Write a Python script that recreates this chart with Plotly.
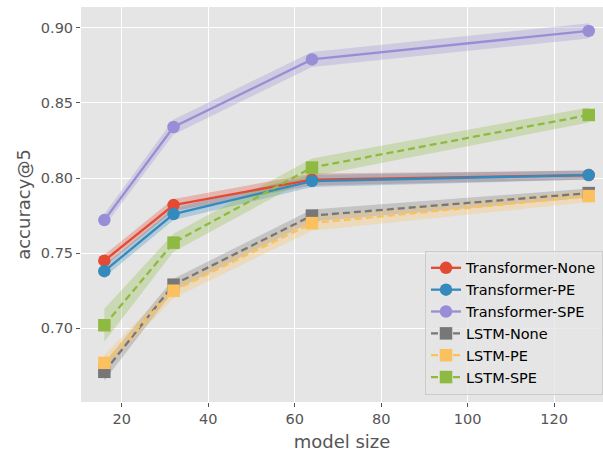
import plotly.graph_objects as go

model_sizes = [16, 32, 64, 128]

series_names = ["Transformer-None", "Transformer-PE", "Transformer-SPE",
                "LSTM-None", "LSTM-PE", "LSTM-SPE"]

transformer_none = [0.745, 0.782, 0.799, 0.802]
transformer_pe = [0.738, 0.776, 0.798, 0.802]
transformer_spe = [0.772, 0.834, 0.879, 0.898]
lstm_none = [0.671, 0.729, 0.775, 0.790]
lstm_pe = [0.677, 0.725, 0.770, 0.788]
lstm_spe = [0.702, 0.757, 0.807, 0.842]

transformer_none_std = [0.004, 0.004, 0.004, 0.003]
transformer_pe_std = [0.004, 0.004, 0.004, 0.003]
transformer_spe_std = [0.004, 0.005, 0.005, 0.005]
lstm_none_std = [0.006, 0.004, 0.004, 0.003]
lstm_pe_std = [0.005, 0.005, 0.005, 0.004]
lstm_spe_std = [0.011, 0.006, 0.006, 0.005]

values = [transformer_none, transformer_pe, transformer_spe, lstm_none, lstm_pe, lstm_spe]
stds = [transformer_none_std, transformer_pe_std, transformer_spe_std,
        lstm_none_std, lstm_pe_std, lstm_spe_std]

colors = ["#E24A33", "#348ABD", "#988ED5", "#777777", "#FBC15E", "#8EBA42"]
fills = ["rgba(226,74,51,0.3)", "rgba(52,138,189,0.3)", "rgba(152,142,213,0.3)",
         "rgba(119,119,119,0.3)", "rgba(251,193,94,0.3)", "rgba(142,186,66,0.3)"]
symbols = ["circle", "circle", "circle", "square", "square", "square"]
dashes = ["solid", "solid", "solid", "7px,4px", "7px,4px", "7px,4px"]

fig = go.Figure()

# bands (drawn below all lines)
for name, v, s, fc in zip(series_names, values, stds, fills):
    upper = [a + b for a, b in zip(v, s)]
    lower = [a - b for a, b in zip(v, s)]
    fig.add_trace(go.Scatter(
        x=model_sizes + model_sizes[::-1],
        y=upper + lower[::-1],
        fill="toself", fillcolor=fc, line=dict(width=0),
        mode="lines", showlegend=False, hoverinfo="skip"))

for name, v, c, sym, d in zip(series_names, values, colors, symbols, dashes):
    fig.add_trace(go.Scatter(
        x=model_sizes, y=v, name=name, mode="lines+markers",
        line=dict(color=c, width=2.3, dash=d),
        marker=dict(color=c, symbol=sym, size=12.5, line=dict(width=0))))

font = "DejaVu Sans"
fig.update_layout(
    width=603, height=452,
    margin=dict(l=81, r=0, t=7, b=50),
    paper_bgcolor="white", plot_bgcolor="#E5E5E5",
    font=dict(family=font, color="#555555", size=14.5),
    legend=dict(x=1.0, xanchor="right", y=0.018, yanchor="bottom",
                bgcolor="rgba(229,229,229,0.8)", bordercolor="#CCCCCC", borderwidth=1,
                font=dict(family=font, size=14.5, color="black"),
                tracegroupgap=0),
)
fig.update_xaxes(range=[10.6, 131.3], tickvals=[20, 40, 60, 80, 100, 120],
                 showgrid=True, gridcolor="white", gridwidth=1.3, zeroline=False,
                 ticks="outside", ticklen=4, tickcolor="#555555",
                 title=dict(text="model size", font=dict(size=18, color="#555555"), standoff=9))
fig.update_yaxes(range=[0.6509, 0.9139], tickvals=[0.70, 0.75, 0.80, 0.85, 0.90],
                 tickformat=".2f",
                 showgrid=True, gridcolor="white", gridwidth=1.3, zeroline=False,
                 ticks="outside", ticklen=4, tickcolor="#555555",
                 title=dict(text="accuracy@5", font=dict(size=18, color="#555555"), standoff=5))

fig.write_html("out.html")
